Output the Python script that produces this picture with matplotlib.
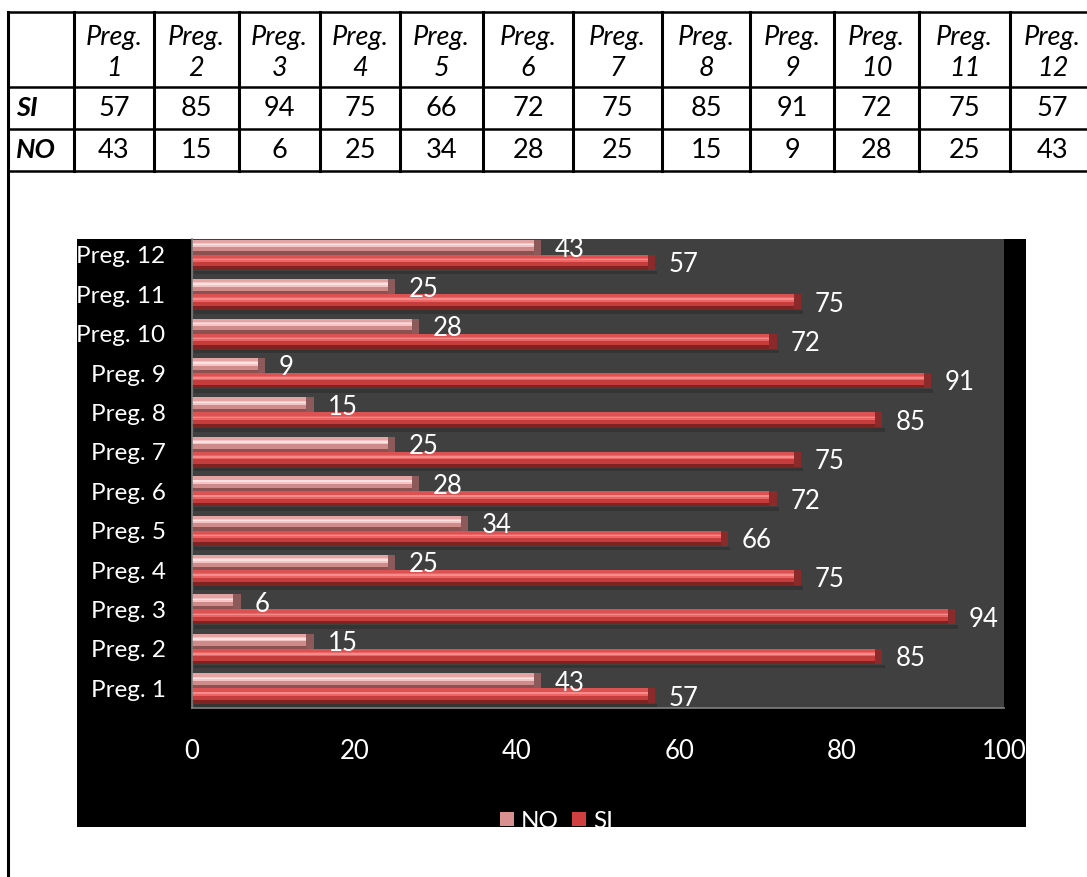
import matplotlib
matplotlib.use("Agg")
import matplotlib.pyplot as plt
import numpy as np
from matplotlib.patches import Rectangle

plt.rcParams['font.family'] = ['Lato', 'DejaVu Sans']

# ---------------- data ----------------
questions = ["Preg. 1", "Preg. 2", "Preg. 3", "Preg. 4", "Preg. 5", "Preg. 6",
             "Preg. 7", "Preg. 8", "Preg. 9", "Preg. 10", "Preg. 11", "Preg. 12"]
header_labels = ["Preg.\n1", "Preg.\n2", "Preg.\n3", "Preg.\n4", "Preg.\n5", "Preg.\n6",
                 "Preg.\n7", "Preg.\n8", "Preg.\n9", "Preg.\n10", "Preg.\n11", "Preg.\n12"]
si_values = [57, 85, 94, 75, 66, 72, 75, 85, 91, 72, 75, 57]
no_values = [43, 15, 6, 25, 34, 28, 25, 15, 9, 28, 25, 43]
series_names = ["NO", "SI"]
x_ticks = [0, 20, 40, 60, 80, 100]

# ---------------- layout ----------------
W, H = 1087, 877
fig = plt.figure(figsize=(W / 100, H / 100), dpi=100)
fig.patch.set_facecolor("white")

# page / table layer in pixel coordinates
page = fig.add_axes([0, 0, 1, 1])
page.set_xlim(0, W)
page.set_ylim(H, 0)
page.axis("off")

col_edges = [8, 74, 154, 239, 320, 400, 483, 573, 662, 750, 834, 919, 1010, 1095]
row_edges = [12, 87, 129, 171]
for y in row_edges:
    page.plot([col_edges[0], W], [y, y], color="black", lw=1.8, solid_capstyle="butt")
page.plot([col_edges[0], col_edges[0]], [row_edges[0], H], color="black", lw=2.2)
for x in col_edges[1:-1]:
    page.plot([x, x], [row_edges[0], row_edges[-1]], color="black", lw=2.2)

tfs = 19.5
for i, lab in enumerate(header_labels):
    cx = (col_edges[i + 1] + col_edges[i + 2]) / 2
    top, bottom = lab.split("\n")
    page.text(cx, 37, top, ha="center", va="center", fontsize=tfs, style="italic")
    page.text(cx, 69, bottom, ha="center", va="center", fontsize=tfs, style="italic")
    page.text(cx, (row_edges[1] + row_edges[2]) / 2, str(si_values[i]), ha="center",
              va="center", fontsize=tfs)
    page.text(cx, (row_edges[2] + row_edges[3]) / 2, str(no_values[i]), ha="center",
              va="center", fontsize=tfs)
page.text(16, (row_edges[1] + row_edges[2]) / 2, "SI", ha="left", va="center",
          fontsize=tfs, style="italic", weight="bold")
page.text(16, (row_edges[2] + row_edges[3]) / 2, "NO", ha="left", va="center",
          fontsize=tfs, style="italic", weight="bold")


def fig_rect(x0, y0, x1, y1):
    return [x0 / W, 1 - y1 / H, (x1 - x0) / W, (y1 - y0) / H]


# chart background (black)
bg = fig.add_axes(fig_rect(77, 239, 1026, 827))
bg.set_facecolor("black")
bg.set_xticks([])
bg.set_yticks([])
for s in bg.spines.values():
    s.set_visible(False)
bg.set_xlim(77, 1026)
bg.set_ylim(827, 239)

# plot area
ax = fig.add_axes(fig_rect(192, 239, 1004, 708))
ax.set_facecolor("#404040")
ax.set_xlim(0, 100)
n = len(questions)
ypos = np.arange(n)
ax.set_ylim(-0.5, n - 0.5 - 0.1)

h = 0.38
# soft shadows under the red bars
ax.barh(ypos - h - 0.07, si_values, height=0.09, left=0.3, color="#343434",
        linewidth=0, zorder=1)

# NO bars (pink, above centre)
no_layers = [(0.0, 1.0, "#b87676"), (0.0, 0.22, "#8c5252"), (0.22, 0.5, "#cf8a8a"),
             (0.5, 0.78, "#f6c4c4"), (0.62, 0.72, "#fde2e2"), (0.78, 1.0, "#e4a4a4")]
for f0, f1, c in no_layers:
    ax.barh(ypos + h * f0, no_values, height=h * (f1 - f0), align="edge",
            color=c, linewidth=0, zorder=2)
# SI bars (red, below centre)
si_layers = [(0.0, 1.0, "#c84040"), (0.0, 0.22, "#7e2222"), (0.22, 0.5, "#c43c3c"),
             (0.5, 0.78, "#ee6464"), (0.62, 0.72, "#f58c8c"), (0.78, 1.0, "#dc5252")]
for f0, f1, c in si_layers:
    ax.barh(ypos - h + h * f0, si_values, height=h * (f1 - f0), align="edge",
            color=c, linewidth=0, zorder=2)
# darker bevel at bar ends
ax.barh(ypos, [0.9] * n, left=np.array(no_values) - 0.9, height=h, align="edge",
        color="#8c5a5a", linewidth=0, zorder=3)
ax.barh(ypos - h, [0.9] * n, left=np.array(si_values) - 0.9, height=h, align="edge",
        color="#8a2a2a", linewidth=0, zorder=3)

lfs = 18.5
for y, v in zip(ypos, no_values):
    ax.text(v + 1.7, y + h / 2 - 0.06, str(v), color="white", fontsize=lfs,
            ha="left", va="center", zorder=4)
for y, v in zip(ypos, si_values):
    ax.text(v + 1.7, y - h / 2 - 0.06, str(v), color="white", fontsize=lfs,
            ha="left", va="center", zorder=4)

ax.set_yticks(ypos)
ax.set_yticklabels(questions, color="white", fontsize=17.5)
ax.set_xticks(x_ticks)
ax.set_xticklabels([str(t) for t in x_ticks], color="white", fontsize=lfs)
ax.tick_params(axis="y", length=0, pad=19)
ax.tick_params(axis="x", length=0, pad=22)
for side in ["top", "right"]:
    ax.spines[side].set_visible(False)
for side in ["left", "bottom"]:
    ax.spines[side].set_color("#808080")
    ax.spines[side].set_linewidth(1.2)

# legend (clipped at chart bottom as in the reference)
leg_colors = ["#d89090", "#d04040"]
leg_x = [500, 572]
for name, c, x in zip(series_names, leg_colors, leg_x):
    bg.add_patch(Rectangle((x, 812), 14, 14, facecolor=c, edgecolor="none", clip_on=True))
    bg.text(x + 21, 821, name, color="white", fontsize=17.5, ha="left", va="center",
            clip_on=True)

fig.savefig("out.png", dpi=100, facecolor="white")
